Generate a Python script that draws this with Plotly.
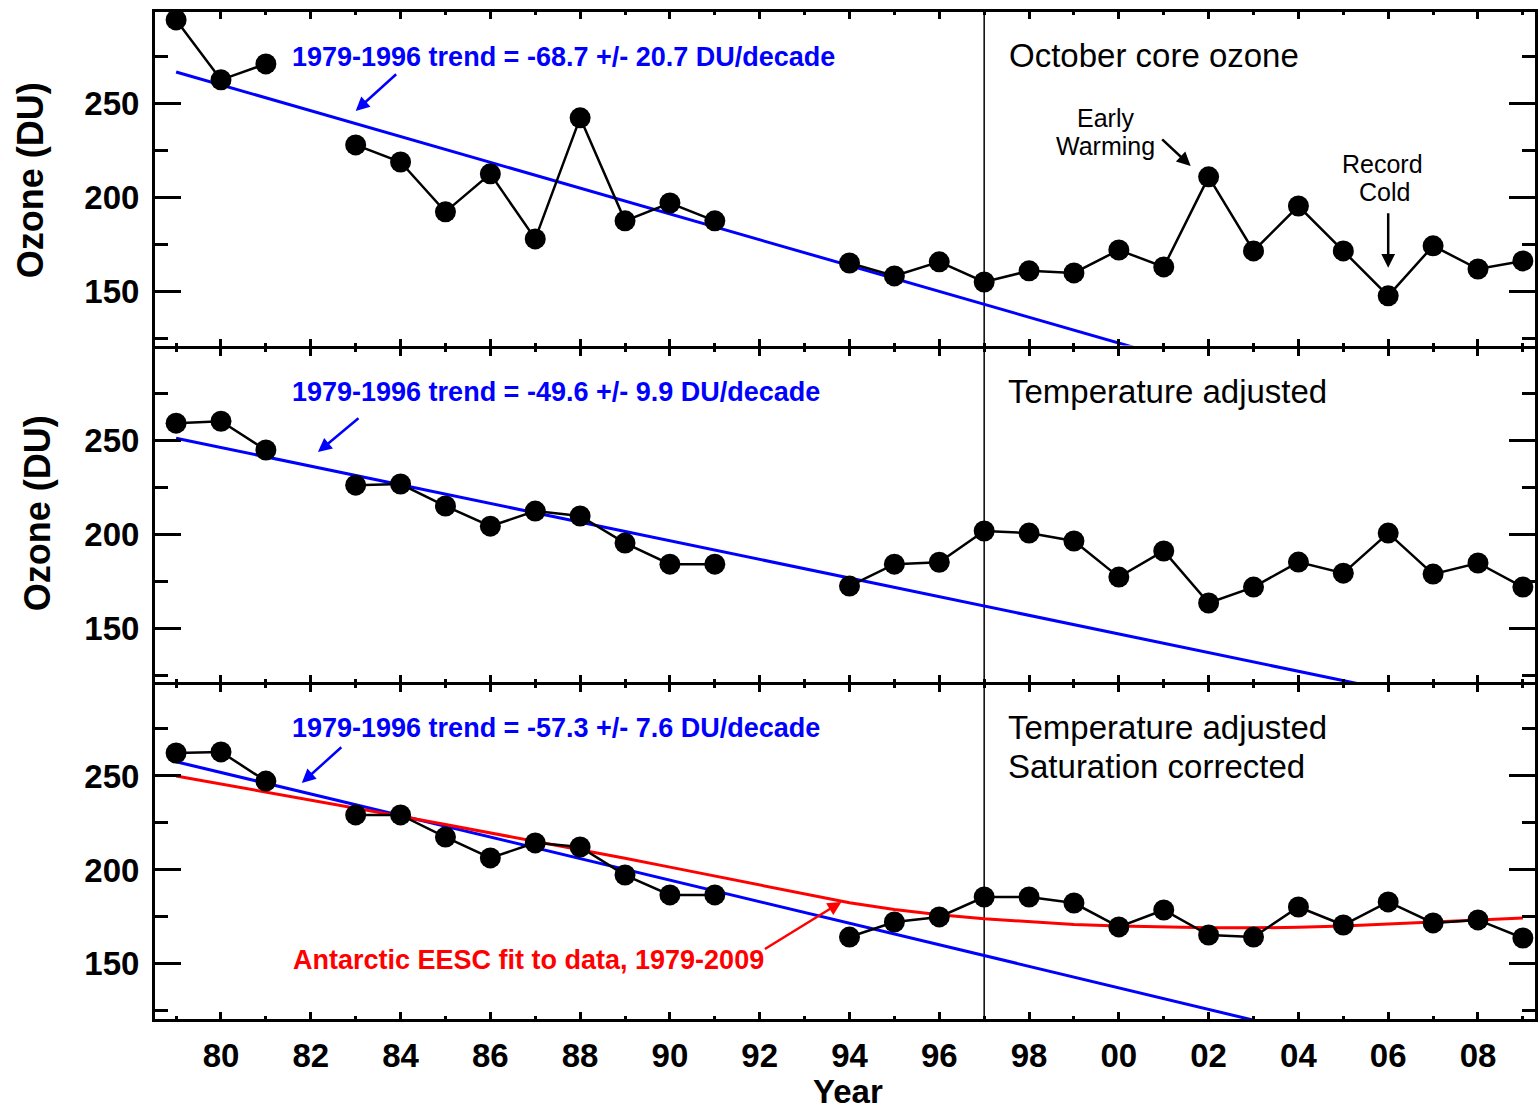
import plotly.graph_objects as go
from plotly.subplots import make_subplots

# ---------------- data ----------------
years = list(range(1979, 2010))
core_ozone = [294.7, 262.8, 271.3, None, 228.2, 219.1, 192.6, 212.8, 178.2, 242.6,
              187.8, 197.3, 187.8, None, None, 165.4, 158.5, 166.0, 155.3, 161.2,
              160.1, 172.3, 163.3, 211.2, 171.8, 195.7, 171.8, 147.9, 174.5, 162.2, 166.5]
temp_adjusted = [259.0, 260.0, 244.7, None, 226.0, 226.6, 214.9, 204.2, 212.2, 209.6,
                 195.2, 184.0, 184.0, None, None, 172.3, 184.0, 185.0, 201.6, 200.5,
                 196.3, 177.1, 191.0, 163.3, 171.8, 185.1, 179.2, 200.5, 178.7, 184.6, 171.8]
sat_corrected = [262.2, 262.8, 247.3, None, 229.3, 229.3, 217.5, 206.4, 214.4, 212.2,
                 197.3, 186.7, 186.7, None, None, 164.3, 172.3, 175.0, 185.6, 185.6,
                 182.4, 169.7, 178.7, 165.4, 164.3, 180.3, 170.7, 183.0, 171.8, 173.4, 163.8]
eesc_fit = [250.0, 245.8, 241.6, 237.3, 233.0, 228.6, 224.2, 219.8, 215.3, 210.8,
            206.2, 201.5, 196.7, 192.0, 187.2, 182.5, 179.0, 176.2, 174.0, 172.3,
            171.0, 170.2, 169.6, 169.3, 169.2, 169.5, 170.2, 171.2, 172.3, 173.4, 174.5]

trend_years = [1979, 2009]
trend_core = [267.0, 61.0]
trend_temp = [251.0, 102.2]
trend_sat = [257.6, 85.7]

trend_labels = ["1979-1996 trend = -68.7 +/- 20.7 DU/decade",
                "1979-1996 trend = -49.6 +/- 9.9 DU/decade",
                "1979-1996 trend = -57.3 +/- 7.6 DU/decade"]

xtick_vals = list(range(1980, 2010, 2))
xtick_text = ["80", "82", "84", "86", "88", "90", "92", "94", "96", "98",
              "00", "02", "04", "06", "08"]
ytick_vals = [150, 200, 250]
yminor_vals = [125, 175, 225, 275]

# ---------------- figure ----------------
W, H = 1539, 1112
ML, MR, MT, MB = 155, 1, 12, 93
PW, PH = W - ML - MR, H - MT - MB
FONT = "Liberation Sans, Arial, Helvetica, sans-serif"
LW = 3

def P(xpix, ypix):
    return (xpix - ML) / PW, (H - MB - ypix) / PH

def dom(top_px, bot_px):
    return [(H - MB - bot_px) / PH, (H - MB - top_px) / PH]

fig = make_subplots(rows=3, cols=1, shared_xaxes=True, vertical_spacing=0)

series = [core_ozone, temp_adjusted, sat_corrected]
trends = [trend_core, trend_temp, trend_sat]
for i in range(3):
    r = i + 1
    fig.add_trace(go.Scatter(x=trend_years, y=trends[i], mode="lines",
                             line=dict(color="#0000FF", width=3), showlegend=False),
                  row=r, col=1)
    if i == 2:
        fig.add_trace(go.Scatter(x=years, y=eesc_fit, mode="lines",
                                 line=dict(color="#FF0000", width=3), showlegend=False),
                      row=r, col=1)
    fig.add_trace(go.Scatter(x=years, y=series[i], mode="lines+markers",
                             connectgaps=False, cliponaxis=False,
                             line=dict(color="black", width=2.5),
                             marker=dict(color="black", size=21),
                             showlegend=False),
                  row=r, col=1)

domains = [dom(12, 345.5), dom(348.5, 682), dom(685, 1019)]
yranges = [[121.5, 298.9], [121.3, 298.7], [120.7, 298.4]]

for r in range(1, 4):
    fig.update_xaxes(range=[1978.53, 2009.27], tickmode="array", tickvals=xtick_vals,
                     ticktext=xtick_text, ticks="inside", ticklen=7, tickwidth=2.5,
                     tickcolor="black", showline=True, linecolor="black", linewidth=LW,
                     mirror="allticks", showgrid=False, zeroline=False,
                     minor=dict(dtick=1, tick0=1979, ticks="inside", ticklen=3,
                                tickwidth=2.5, tickcolor="black", showgrid=False),
                     tickfont=dict(family=FONT, size=33, color="black", weight="bold"),
                     ticklabelstandoff=5,
                     row=r, col=1)
    fig.update_yaxes(range=yranges[r - 1], domain=domains[r - 1], tickmode="array",
                     tickvals=ytick_vals,
                     ticks="inside", ticklen=26, tickwidth=2.5, tickcolor="black",
                     showline=True, linecolor="black", linewidth=LW, mirror="allticks",
                     showgrid=False, zeroline=False,
                     minor=dict(tickvals=yminor_vals, ticks="inside", ticklen=13,
                                tickwidth=2.5, tickcolor="black", showgrid=False),
                     tickfont=dict(family=FONT, size=33, color="black", weight="bold"),
                     ticklabelstandoff=6,
                     row=r, col=1)

fig.add_shape(type="line", xref="x", yref="paper", x0=1997, x1=1997, y0=0, y1=1,
              line=dict(color="black", width=1.5), layer="below")

ann = []

def text(xp, yp, s, size, color="black", bold=False, xanchor="left", angle=0):
    x, y = P(xp, yp)
    ann.append(dict(x=x, y=y, xref="paper", yref="paper", text=s, showarrow=False,
                    xanchor=xanchor, yanchor="middle", textangle=angle,
                    font=dict(family=FONT, size=size, color=color,
                              weight="bold" if bold else "normal")))

# trend labels
for lbl, yp in zip(trend_labels, [57, 392, 728]):
    text(290, yp, lbl, 27, color="#0000FF", bold=True)

# panel titles
text(1009, 55, "October core ozone", 33)
text(1008, 391, "Temperature adjusted", 33)
text(1008, 727, "Temperature adjusted", 33)
text(1008, 766, "Saturation corrected", 33)

text(1108, 118, "Early", 25, xanchor="center")
text(1108, 146, "Warming", 25, xanchor="center")
text(1385, 164, "Record", 25, xanchor="center")
text(1387, 192, "Cold", 25, xanchor="center")

text(291, 960, "Antarctic EESC fit to data, 1979-2009", 27, color="#FF0000", bold=True)

text(850, 1091, "Year", 33, bold=True, xanchor="center")
text(30, 180, "Ozone (DU)", 36, bold=True, xanchor="center", angle=-90)
text(37, 513, "Ozone (DU)", 36, bold=True, xanchor="center", angle=-90)

fig.update_layout(annotations=ann)

# arrows (head in data coords, tail as pixel offsets)
def arrow(x, y, ax, ay, color, xref, yref):
    fig.add_annotation(x=x, y=y, xref=xref, yref=yref, ax=ax, ay=ay, text="",
                       showarrow=True, arrowhead=2, arrowsize=1.1, arrowwidth=2.5,
                       arrowcolor=color, standoff=0)

arrow(1983.0, 246.3, 42, -38, "#0000FF", "x", "y")
arrow(1982.16, 243.6, 42, -35, "#0000FF", "x2", "y2")
arrow(1981.8, 246.3, 41, -37, "#0000FF", "x3", "y3")
arrow(1993.82, 183.0, -78, 48, "#FF0000", "x3", "y3")
arrow(2001.6, 217.0, -30, -28, "black", "x", "y")
arrow(2006.0, 162.8, 0, -56, "black", "x", "y")

fig.update_layout(width=W, height=H, margin=dict(l=ML, r=MR, t=MT, b=MB),
                  plot_bgcolor="white", paper_bgcolor="white",
                  font=dict(family=FONT, color="black"))

fig.write_html("out.html")
